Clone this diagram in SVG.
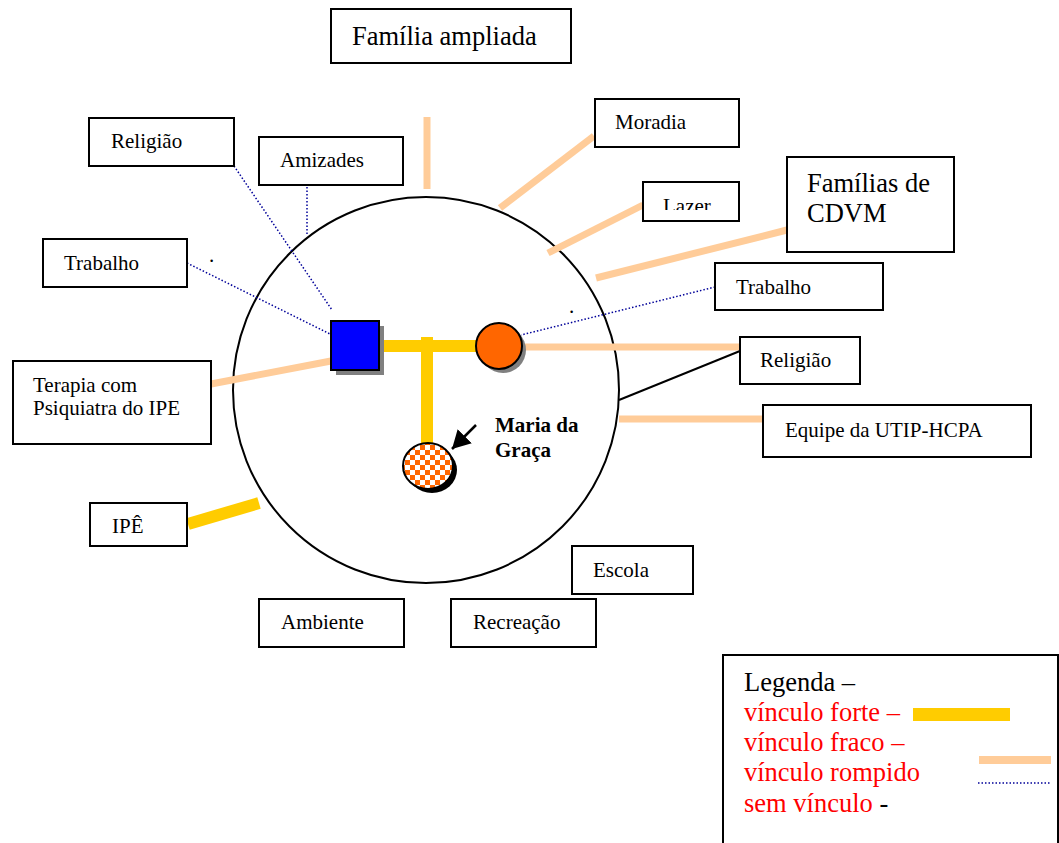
<svg xmlns="http://www.w3.org/2000/svg" width="1059" height="843" viewBox="0 0 1059 843">
<style>
.box{fill:#fff;stroke:#000;stroke-width:2}
.t{font-family:"Liberation Serif","Times New Roman",serif;font-size:21px;fill:#000}
.big{font-family:"Liberation Serif","Times New Roman",serif;font-size:26.5px}
.red{fill:#FF0000}
.strong{stroke:#FFCC00;stroke-width:12;fill:none}
.weak{stroke:#FFCC99;stroke-width:7;fill:none}
.broken{stroke:#000099;stroke-width:1.5;stroke-dasharray:1.5 2;fill:none}
</style>
<defs>
<pattern id="chk" width="10" height="10" patternUnits="userSpaceOnUse">
<rect width="10" height="10" fill="#FF6600"/>
<rect width="5" height="5" fill="#fff"/>
<rect x="5" y="5" width="5" height="5" fill="#fff"/>
</pattern>
<marker id="ah" markerWidth="20" markerHeight="20" refX="18" refY="10" orient="auto" markerUnits="userSpaceOnUse" viewBox="0 0 20 20">
<path d="M0,0 L18,10 L0,20 z" fill="#000"/>
</marker>
<clipPath id="lazerclip"><rect x="643" y="182" width="96" height="28"/></clipPath>
</defs>
<rect width="1059" height="843" fill="#fff"/>

<circle cx="426" cy="390" r="193" fill="none" stroke="#000" stroke-width="2"/>

<g id="connectors">
<line class="weak" x1="427" y1="117" x2="427" y2="189"/>
<line class="weak" x1="594" y1="136" x2="500" y2="208"/>
<line class="weak" x1="643" y1="205" x2="548" y2="253"/>
<line class="weak" x1="787" y1="230" x2="596" y2="278"/>
<line class="weak" x1="211" y1="384" x2="331" y2="361"/>
<line class="weak" x1="522" y1="347" x2="740" y2="347"/>
<line class="weak" x1="619" y1="419" x2="763" y2="419"/>
<line x1="740" y1="351" x2="619" y2="400" stroke="#000" stroke-width="2"/>
<line class="strong" x1="188" y1="524" x2="259" y2="503" stroke-width="11"/>
<line class="broken" x1="234" y1="166" x2="332" y2="310"/>
<line class="broken" x1="307" y1="187" x2="307" y2="235"/>
<line class="broken" x1="187" y1="263" x2="332" y2="335"/>
<line class="broken" x1="715" y1="287" x2="521" y2="335"/>
<line class="strong" x1="379" y1="346" x2="478" y2="346"/>
<line class="strong" x1="427" y1="337" x2="427" y2="445"/>
<line x1="476" y1="425" x2="452" y2="449" stroke="#000" stroke-width="2.5" marker-end="url(#ah)"/>
</g>

<g id="pai">
<rect x="336" y="326" width="48" height="49" fill="#808080"/>
<rect x="331" y="321" width="48" height="49" fill="#0000FF" stroke="#000" stroke-width="2"/>
</g>
<g id="mae">
<circle cx="503" cy="350" r="23" fill="#808080"/>
<circle cx="499" cy="346" r="23" fill="#FF6600" stroke="#000" stroke-width="2"/>
</g>
<g id="maria">
<ellipse cx="432" cy="470" rx="25" ry="23" fill="#000"/>
<ellipse cx="428" cy="466" rx="25" ry="23" fill="url(#chk)" stroke="#000" stroke-width="2"/>
<text class="t" x="495" y="432" font-weight="bold">Maria da</text>
<text class="t" x="495" y="457" font-weight="bold">Graça</text>
</g>

<g id="familia-ampliada"><rect class="box" x="331" y="9" width="240" height="54"/><text class="big" x="352" y="45">Família ampliada</text></g>
<g id="religiao-esq"><rect class="box" x="89" y="118" width="145" height="48"/><text class="t" x="111" y="148">Religião</text></g>
<g id="amizades"><rect class="box" x="259" y="137" width="144" height="48"/><text class="t" x="280" y="167">Amizades</text></g>
<g id="trabalho-esq"><rect class="box" x="43" y="239" width="144" height="48"/><text class="t" x="64" y="270">Trabalho</text></g>
<text class="t" x="209" y="262">.</text>
<text class="t" x="569" y="313">.</text>
<g id="terapia"><rect class="box" x="13" y="361" width="198" height="83"/><text class="t" x="33" y="392">Terapia com</text><text class="t" x="33" y="415">Psiquiatra do IPE</text></g>
<g id="ipe"><rect class="box" x="90" y="503" width="97" height="43"/><text class="t" x="112" y="533">IPÊ</text></g>
<g id="ambiente"><rect class="box" x="259" y="599" width="145" height="48"/><text class="t" x="281" y="629">Ambiente</text></g>
<g id="recreacao"><rect class="box" x="451" y="599" width="145" height="48"/><text class="t" x="473" y="629">Recreação</text></g>
<g id="escola"><rect class="box" x="572" y="546" width="121" height="48"/><text class="t" x="593" y="577">Escola</text></g>
<g id="moradia"><rect class="box" x="595" y="99" width="144" height="48"/><text class="t" x="615" y="129">Moradia</text></g>
<g id="lazer"><rect class="box" x="643" y="182" width="96" height="39"/><text class="t" x="663" y="213" clip-path="url(#lazerclip)">Lazer</text></g>
<g id="familias-cdvm"><rect class="box" x="787" y="157" width="167" height="95"/><text class="big" x="807" y="192">Famílias de</text><text class="big" x="807" y="222">CDVM</text></g>
<g id="trabalho-dir"><rect class="box" x="715" y="263" width="168" height="47"/><text class="t" x="736" y="294">Trabalho</text></g>
<g id="religiao-dir"><rect class="box" x="740" y="337" width="120" height="47"/><text class="t" x="760" y="367">Religião</text></g>
<g id="equipe"><rect class="box" x="763" y="405" width="268" height="52"/><text class="t" x="785" y="437">Equipe da UTIP-HCPA</text></g>

<g id="legenda">
<rect class="box" x="723" y="655" width="335" height="200"/>
<text class="big" x="744" y="691">Legenda –</text>
<text class="big red" x="744" y="721">vínculo forte –</text>
<text class="big red" x="744" y="751">vínculo fraco –</text>
<text class="big red" x="744" y="781">vínculo rompido</text>
<text class="big" x="744" y="812"><tspan fill="#FF0000">sem vínculo</tspan> -</text>
<rect x="913" y="708" width="97" height="13" fill="#FFCC00"/>
<rect x="979" y="756" width="72" height="8" fill="#FFCC99"/>
<line class="broken" x1="978" y1="783" x2="1050" y2="783"/>
</g>
</svg>
